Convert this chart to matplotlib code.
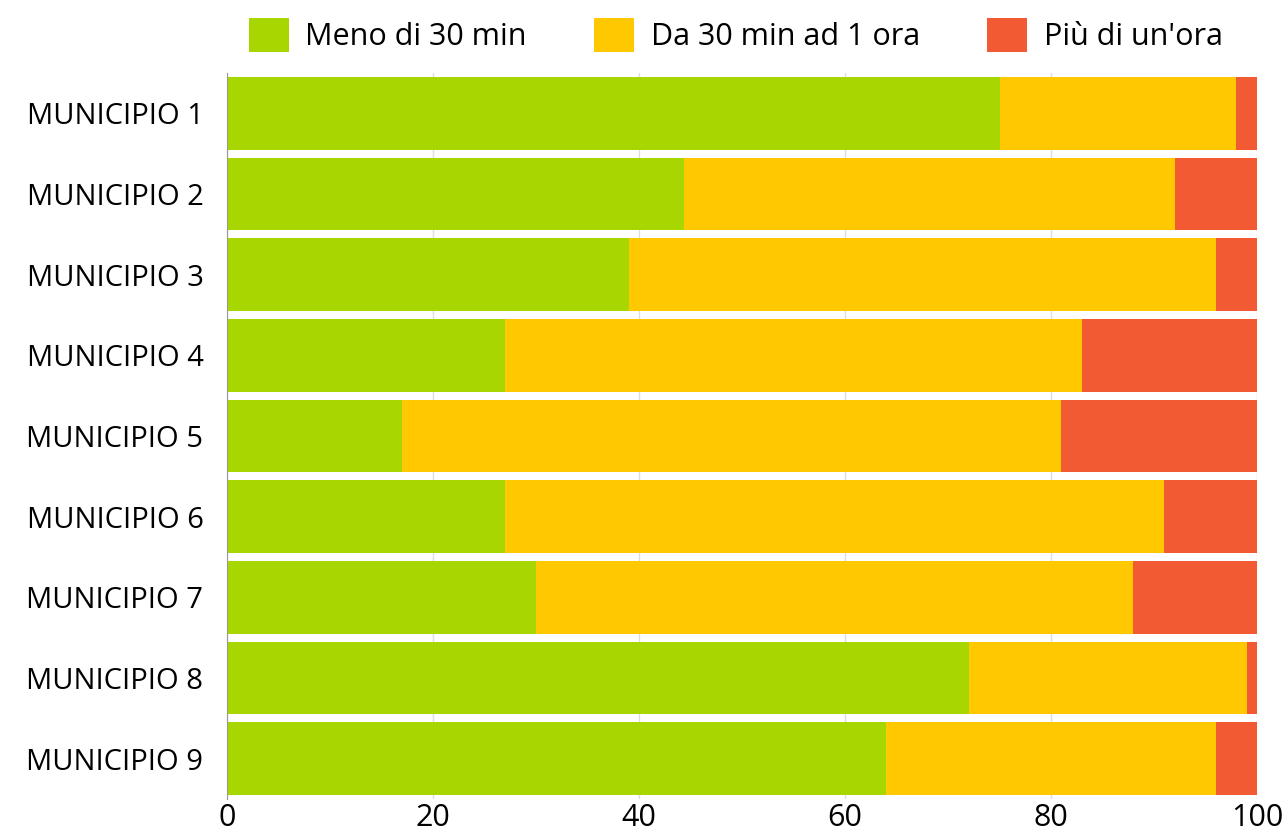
import matplotlib as mpl
import matplotlib.pyplot as plt
from matplotlib.patches import Patch

mpl.rcParams.update({
    "font.family": ["Open Sans", "DejaVu Sans"],
    "axes.spines.top": False,
    "axes.spines.right": False,
    "axes.spines.bottom": False,
})

# ── Data ─────────────────────────────────────────────────────────────
categories = [f"MUNICIPIO {i}" for i in range(1, 10)]
meno_30 = [75, 44.4, 39, 27, 17, 27, 30, 72, 64]
da_30_a_1h = [23, 47.6, 57, 56, 64, 64, 58, 27, 32]
piu_1h = [2, 8, 4, 17, 19, 9, 12, 1, 4]

series_labels = ["Meno di 30 min", "Da 30 min ad 1 ora", "Più di un'ora"]
COLORS = ["#A8D600", "#FFC800", "#F15A33"]
x_ticks = [0, 20, 40, 60, 80, 100]

fig = plt.figure(figsize=(12.84, 8.38), dpi=100)
ax = fig.add_axes([0.1768, 0.0465, 0.8022, 0.8664])

y = list(range(len(categories)))
left = [0] * len(categories)
for vals, col in zip([meno_30, da_30_a_1h, piu_1h], COLORS):
    ax.barh(y, vals, left=left, height=0.9, color=col, zorder=2)
    left = [l + v for l, v in zip(left, vals)]

ax.set_xlim(0, 100)
ax.set_ylim(len(categories) - 0.5, -0.5)
ax.set_yticks(y)
ax.set_yticklabels(categories, fontsize=21)
ax.set_xticks(x_ticks)
ax.set_xticklabels([str(t) for t in x_ticks], fontsize=22)
ax.tick_params(axis="y", length=0, pad=17)
ax.tick_params(axis="x", length=0, pad=3)
ax.grid(axis="x", color="#dddddd", linewidth=1, zorder=0)
ax.spines["left"].set_color("#999999")

handles = [Patch(facecolor=c) for c in COLORS]
fig.legend(handles, series_labels, loc="upper center", bbox_to_anchor=(0.573, 1.0),
           ncol=3, frameon=False, fontsize=22, handlelength=1.3, handleheight=1.3,
           handletextpad=0.55, columnspacing=2.2, borderaxespad=0.2)

fig.savefig("out.png", dpi=100)
